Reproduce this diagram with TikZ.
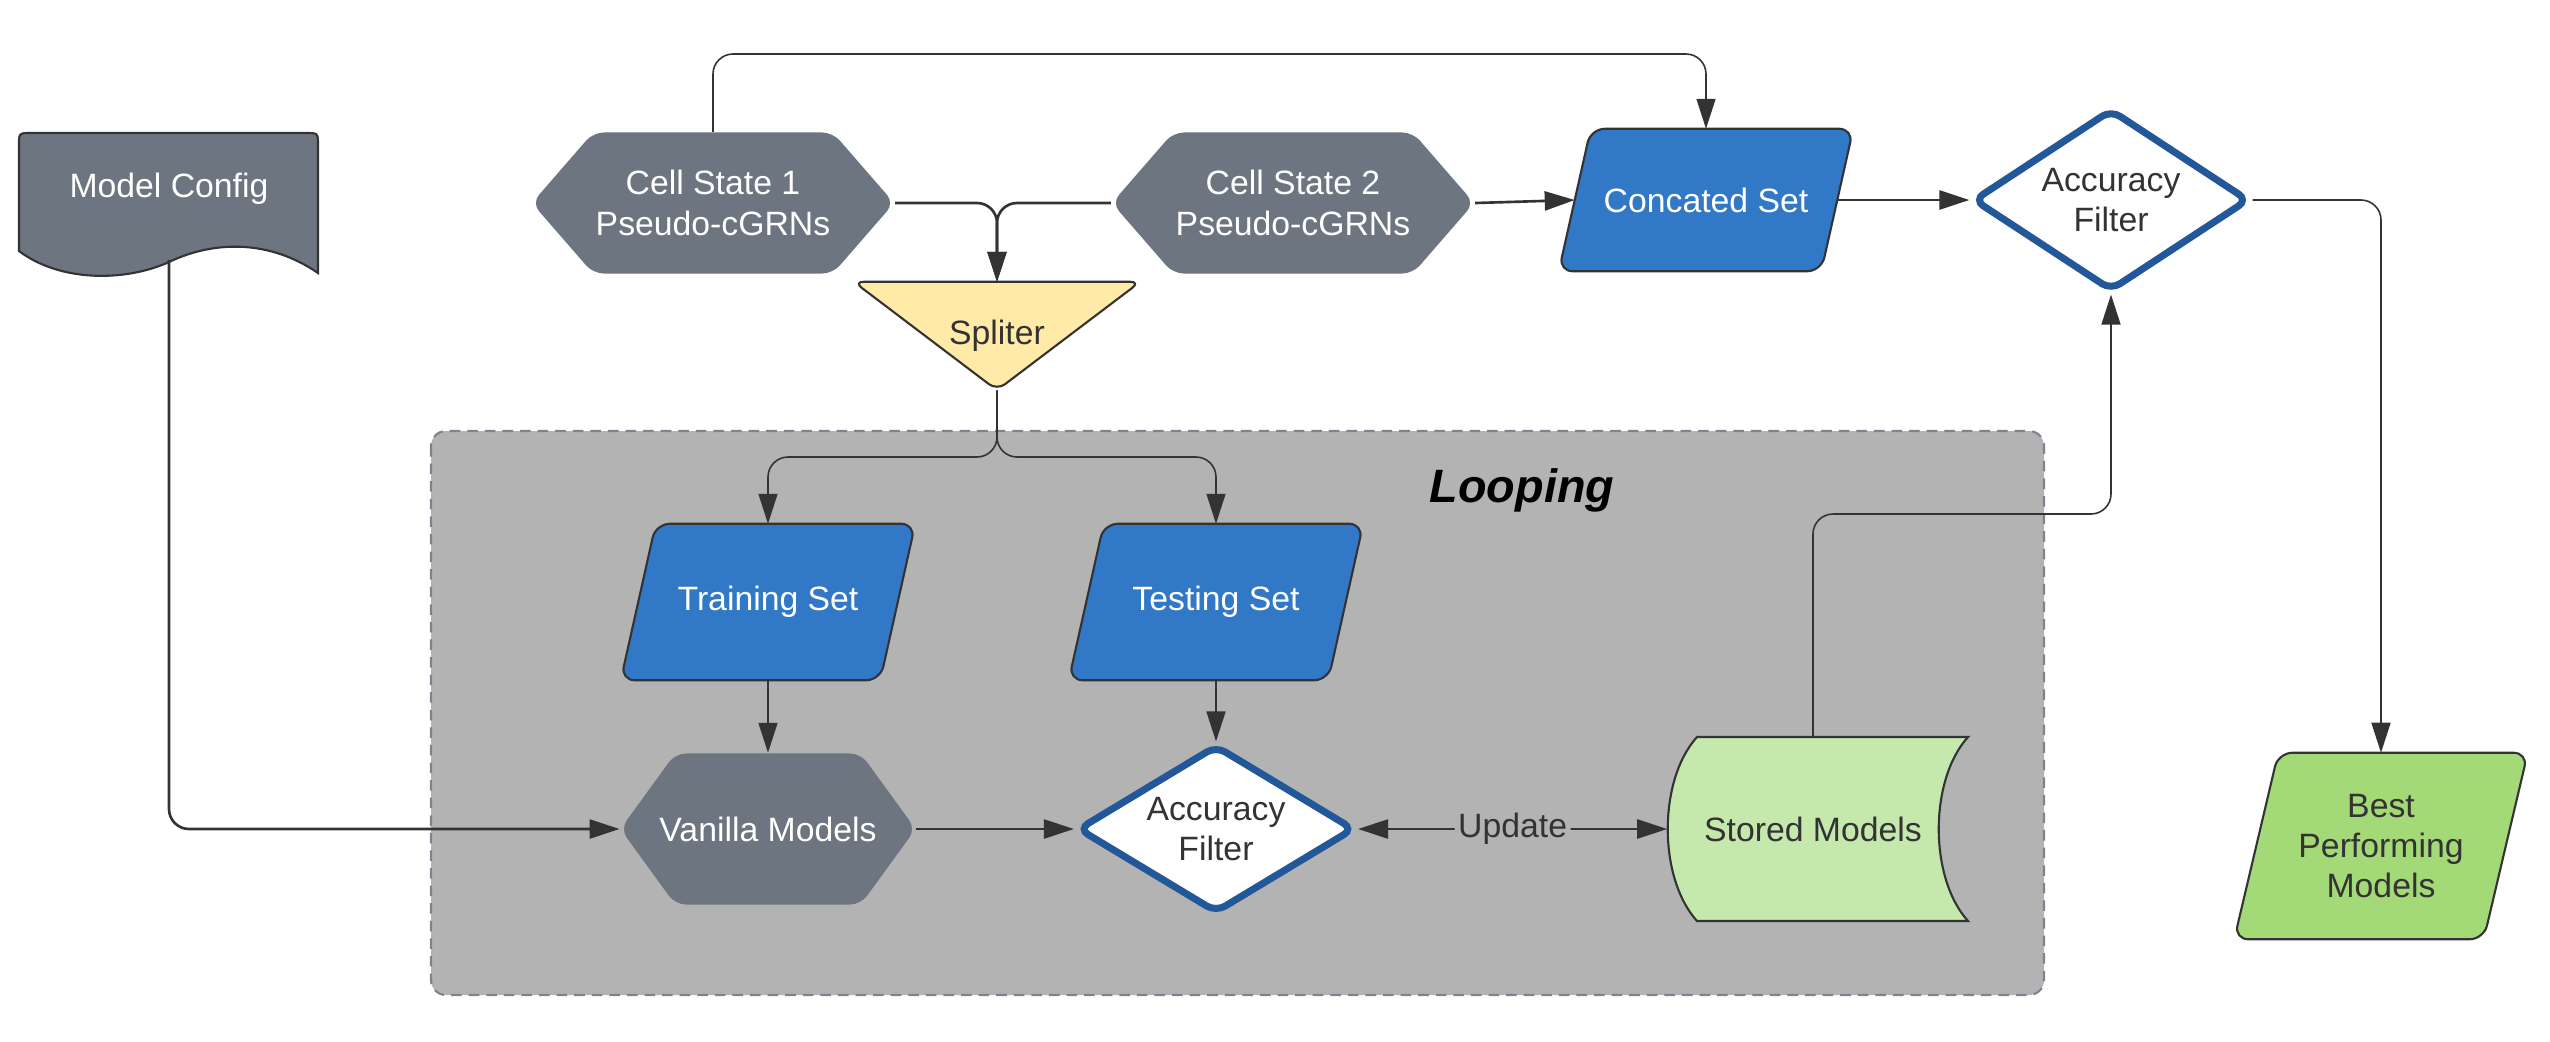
\documentclass[tikz,border=0pt]{standalone}
\usepackage{fontspec}
\setmainfont{Liberation Sans}
\usetikzlibrary{shapes.geometric,shapes.symbols,arrows.meta,backgrounds}

\definecolor{slateGray}{HTML}{6D7580}
\definecolor{setBlue}{HTML}{3178C6}
\definecolor{filterBlue}{HTML}{22589A}
\definecolor{splitYellow}{HTML}{FFEAA7}
\definecolor{storeGreen}{HTML}{C5E8AD}
\definecolor{bestGreen}{HTML}{A3D977}
\definecolor{loopGray}{HTML}{B3B3B3}
\definecolor{loopEdge}{HTML}{7A8591}
\definecolor{lineDark}{HTML}{333333}

\begin{document}
\begin{tikzpicture}
[x=0.01cm,y=-0.01cm,
  every node/.style={font=\fontsize{9.6}{11.5}\selectfont,align=center},
  lineDecorate/.style={draw=lineDark,line width=0.75pt,rounded corners=0.2cm,
    -{Triangle[length=0.3cm,width=0.19cm]}},
  thinDecorate/.style={lineDecorate,line width=0.45pt},
  hexDecorate/.style={shape=signal,signal to=west and east,fill=slateGray,
    text=white,rounded corners=3pt,inner sep=0pt},
  filterDecorate/.style={shape=diamond,shape aspect=1.6,draw=filterBlue,line width=2pt,fill=white,
    text=lineDark,rounded corners=3pt,inner sep=0pt},
  boxDecorate/.style={shape=rectangle,inner sep=0pt,text=lineDark},
  setDecorate/.style={boxDecorate,text=white}]
\useasboundingbox (0,0) rectangle (2550,1041);

%% nodes or vertices
\node (cfg) at (169,189) [boxDecorate,text=white,minimum width=2.99cm,minimum height=1.4cm] {Model Config};
\node (cs1) at (713,203) [hexDecorate,signal pointer angle=98,minimum width=3.62cm,minimum height=1.41cm] {Cell State 1\\Pseudo-cGRNs};
\node (cs2) at (1293,203) [hexDecorate,signal pointer angle=98,minimum width=3.62cm,minimum height=1.41cm] {Cell State 2\\Pseudo-cGRNs};
\node (split) at (997,336) [boxDecorate,minimum width=2.85cm,minimum height=1.07cm] {Spliter};
\node (concat) at (1706,200) [setDecorate,minimum width=2.93cm,minimum height=1.41cm] {Concated Set};
\node (acc1) at (2111,200) [filterDecorate,shape aspect=1.5,minimum width=2.76cm,minimum height=1.82cm] {Accuracy\\Filter};
\node (best) at (2381,846) [boxDecorate,minimum width=2.92cm,minimum height=1.85cm] {Best\\Performing\\Models};
\node (loopTitle) at (1522,490) [font=\fontsize{13.3}{16}\selectfont\bfseries\itshape] {Looping};
\node (train) at (768,602) [setDecorate,minimum width=2.93cm,minimum height=1.55cm] {Training Set};
\node (test) at (1216,602) [setDecorate,minimum width=2.93cm,minimum height=1.55cm] {Testing Set};
\node (van) at (768,829) [hexDecorate,inner xsep=-0.5cm,signal pointer angle=108,minimum width=2.95cm,minimum height=1.51cm] {Vanilla Models};
\node (acc2) at (1216,829) [filterDecorate,shape aspect=1.65,minimum width=2.77cm,minimum height=1.68cm] {Accuracy\\Filter};
\node (store) at (1813,829) [boxDecorate,minimum width=2.9cm,minimum height=1.84cm] {Stored Models};

\coordinate (topy) at (0,54);
\coordinate (fork) at (0,457);
\coordinate (ret) at (0,514);

%% shapes drawn by hand
\begin{pgfonlayer}{background}
  \filldraw[fill=loopGray,draw=loopEdge,dash pattern=on 3pt off 2pt,line width=0.6pt,rounded corners=0.15cm]
    (431,431) rectangle (2044,995);
  \filldraw[fill=slateGray,draw=lineDark,line width=0.6pt]
    (19,251) -- (19,145) .. controls (19,133) .. (31,133) -- (306,133) .. controls (318,133) .. (318,145)
    -- (318,273) .. controls (270,240) and (215,240) .. (169,262) .. controls (125,282) and (60,282) .. (19,251) -- cycle;
  \filldraw[fill=splitYellow,draw=lineDark,line width=0.6pt,rounded corners=0.1cm]
    (split.north west) -- (split.north east) -- (split.south) -- cycle;
  \filldraw[fill=storeGreen,draw=lineDark,line width=0.6pt]
    (1697,737) -- (1968,737) .. controls (1929,780) and (1929,878) .. (1968,921)
    -- (1697,921) .. controls (1658,878) and (1658,780) .. (1697,737) -- cycle;
  \foreach \setname/\slant/\setcolor in {concat/0.32/setBlue,train/0.35/setBlue,test/0.35/setBlue,best/0.44/bestGreen}
    \filldraw[fill=\setcolor,draw=lineDark,line width=0.6pt,rounded corners=4pt]
      (\setname.south west) -- ([xshift=\slant cm]\setname.north west) -- (\setname.north east)
      -- ([xshift=-\slant cm]\setname.south east) -- cycle;
\end{pgfonlayer}

%% connectors
\draw[lineDecorate] (cs1.east) -| (split.north);
\draw[lineDecorate] (cs2.west) -| (split.north);
\draw[thinDecorate] (cs1.north) -- (cs1.north |- topy) -| (concat.north);
\draw[lineDecorate] (cs2.east) -- ([xshift=0.16cm]concat.west);
\draw[lineDecorate] ([xshift=-0.16cm]concat.east) -- (acc1.west);
\draw[thinDecorate] (acc1.east) -| (best.north);
\draw[thinDecorate] (split.south) -- (split.south |- fork) -| (train.north);
\draw[thinDecorate] (split.south) -- (split.south |- fork) -| (test.north);
\draw[thinDecorate] (train.south) -- (van.north);
\draw[thinDecorate] (test.south) -- (acc2.north);
\draw[lineDecorate] (cfg.south) |- (van.west);
\draw[lineDecorate] (van.east) -- (acc2.west);
\draw[lineDecorate,{Triangle[length=0.3cm,width=0.19cm]}-{Triangle[length=0.3cm,width=0.19cm]}]
  (acc2.east) -- node[fill=loopGray,inner sep=1pt,text=lineDark] {Update} (store.west);
\draw[thinDecorate] (store.north) -- (store.north |- ret) -| (acc1.south);
\end{tikzpicture}
\end{document}
